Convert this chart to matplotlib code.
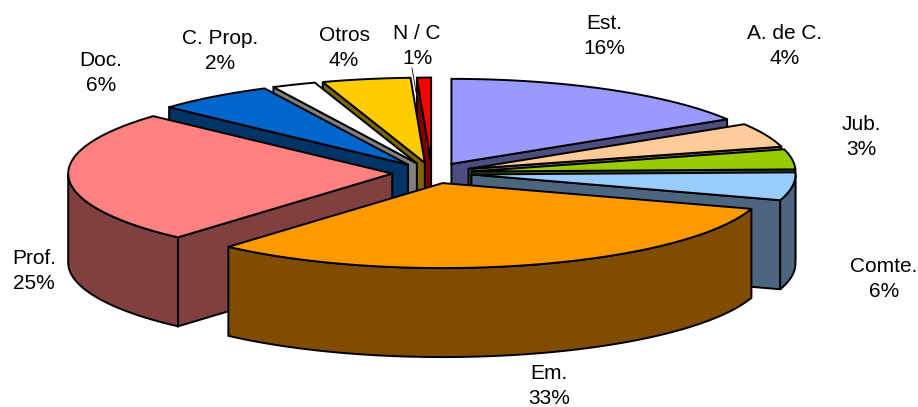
import numpy as np
import matplotlib
matplotlib.use('Agg')
import matplotlib.pyplot as plt
from matplotlib.patches import Polygon

plt.rcParams['font.family'] = ['Liberation Sans', 'DejaVu Sans']

# slice sizes (clockwise from the top), labels as printed
labels = ['Est.', 'A. de C.', 'Jub.', 'Comte.', 'Em.', 'Prof.', 'Doc.', 'C. Prop.', 'Otros', 'N / C']
values = [16.2, 4.6, 3.8, 5.3, 31.6, 25.3, 5.9, 2.2, 4.4, 0.7]
pct_text = ['16%', '4%', '3%', '6%', '33%', '25%', '6%', '2%', '4%', '1%']
top_cols = ['#9999FF', '#FFCC99', '#99CC00', '#99CCFF', '#FF9900', '#FF8080', '#0066CC', '#FFFFFF', '#FFCC00', '#FF0000']
side_cols = ['#4D4D80', '#80664D', '#4D6600', '#4D6680', '#804D00', '#804040', '#003366', '#808080', '#806600', '#800000']
label_x = [604, 785, 861, 884, 549, 34, 101, 220, 344, 417]
label_y = [36, 46, 137, 279, 386, 271, 73, 51, 48, 46]

W, H = 918, 407
fig = plt.figure(figsize=(W / 100, H / 100), dpi=100)
ax = fig.add_axes([0, 0, 1, 1])
ax.set_xlim(0, W)
ax.set_ylim(H, 0)
ax.axis('off')

cx, cy = 432, 173
rx, ry = 324, 85
depth = 89
explode = 0.123
lw = 1.4

def pt(a, ox, oy):
    return ox + rx * np.sin(a), oy - ry * np.cos(a)

edges = np.cumsum([0] + values) / sum(values) * 2 * np.pi

# back slices first, the two big front ones last
order = [9, 8, 7, 6, 0, 1, 2, 3, 5, 4]
for z, i in enumerate(order):
    a0, a1 = edges[i], edges[i + 1]
    mid = (a0 + a1) / 2
    ox, oy = cx + explode * rx * np.sin(mid), cy - explode * ry * np.cos(mid)
    t = np.linspace(a0, a1, 80)
    xs, ys = pt(t, ox, oy)
    # cut faces, only those turned to the viewer
    for a, seen in ((a0, np.sin(a0) < -1e-6), (a1, np.sin(a1) > 1e-6)):
        if seen:
            x1, y1 = pt(a, ox, oy)
            ax.add_patch(Polygon([(ox, oy), (x1, y1), (x1, y1 + depth), (ox, oy + depth)],
                                 fc=side_cols[i], ec='black', lw=lw, zorder=z + 1))
    # outer wall, front half only
    t2 = t[np.cos(t) <= 0]
    if len(t2) > 1:
        xs2, ys2 = pt(t2, ox, oy)
        wall = list(zip(xs2, ys2)) + list(zip(xs2[::-1], ys2[::-1] + depth))
        ax.add_patch(Polygon(wall, fc=side_cols[i], ec='black', lw=lw, zorder=z + 1.2))
    ax.add_patch(Polygon([(ox, oy)] + list(zip(xs, ys)), fc=top_cols[i], ec='black', lw=lw,
                         zorder=z + 1.5))

# leader line of the N / C label
ax.plot([412, 416], [68, 92], color='black', lw=0.6, zorder=20)

for n in range(len(labels)):
    ax.text(label_x[n], label_y[n], labels[n] + '\n' + pct_text[n], ha='center', va='center',
            fontsize=15, color='black', linespacing=1.45, zorder=30)

fig.savefig('out.png', dpi=100)
